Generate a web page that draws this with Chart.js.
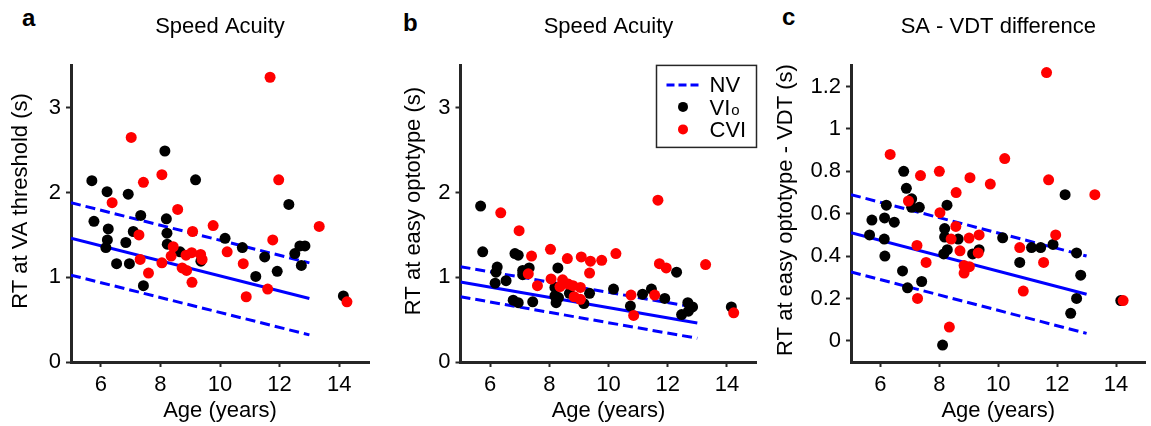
<!DOCTYPE html>
<html>
<head>
<meta charset="utf-8">
<script src="https://cdn.jsdelivr.net/npm/chart.js@4/dist/chart.umd.min.js"></script>
<style>
body { margin: 0; background: #fff; width: 1151px; height: 426px; position: relative; overflow: hidden; }
.panel { position: absolute; top: 0; }
.tag { position: absolute; font: bold 24px/24px 'Liberation Sans', Arial, sans-serif; color: #000; }
</style>
</head>
<body>
<div class="tag" style="left:22px; top:6px">a</div>
<div class="tag" style="left:403px; top:11px">b</div>
<div class="tag" style="left:782px; top:5px">c</div>
<div class="panel" style="left:0px"><canvas id="chartA" width="384" height="426"></canvas></div>
<div class="panel" style="left:392px"><canvas id="chartB" width="376" height="426"></canvas></div>
<div class="panel" style="left:762px"><canvas id="chartC" width="389" height="426"></canvas></div>
<script>
// ticks
var ageTicks = [6, 8, 10, 12, 14];
var rtTicks = [0, 1, 2, 3];
var diffTicks = [0, 0.2, 0.4, 0.6, 0.8, 1, 1.2];

// NV regression line and its bounds, drawn between these ages
var fitAge = [5, 13];

// a: RT at VA threshold
var aVioAge = [5.77, 5.70, 6.21, 6.92, 8.15, 9.18, 12.31, 7.34, 8.20, 6.25, 6.22, 6.17, 6.84, 7.09, 8.22, 8.23, 8.66, 9.36, 6.53, 6.96, 7.43, 10.17, 10.75, 11.20, 11.50, 11.92, 12.51, 12.68, 12.85, 12.73, 14.14];
var aVioRT  = [1.66, 2.14, 2.01, 1.98, 2.49, 2.15, 1.86, 1.73, 1.69, 1.57, 1.44, 1.35, 1.41, 1.54, 1.52, 1.39, 1.30, 1.19, 1.16, 1.16, 0.90, 1.46, 1.35, 1.01, 1.24, 1.07, 1.28, 1.37, 1.37, 1.14, 0.78];
var aCviAge = [11.68, 7.02, 7.43, 8.05, 11.97, 6.38, 8.58, 7.28, 9.08, 9.77, 8.43, 8.36, 8.86, 9.05, 9.35, 9.40, 10.24, 7.32, 8.05, 7.60, 8.73, 8.88, 9.06, 10.78, 10.88, 11.60, 11.77, 13.33, 14.26];
var aCviRT  = [3.36, 2.65, 2.12, 2.21, 2.15, 1.88, 1.80, 1.50, 1.54, 1.61, 1.36, 1.25, 1.26, 1.29, 1.27, 1.21, 1.30, 1.21, 1.17, 1.05, 1.11, 1.08, 0.94, 1.16, 0.77, 0.86, 1.44, 1.60, 0.71];
var aFit = [1.46, 0.75];
var aUpper = [1.88, 1.17];
var aLower = [1.025, 0.32];

// b: RT at easy optotype
var bVioAge = [5.68, 5.75, 6.84, 6.95, 6.24, 6.20, 6.17, 6.54, 7.10, 7.10, 7.32, 8.29, 8.19, 8.19, 8.23, 8.31, 8.68, 9.17, 9.36, 6.78, 6.95, 7.44, 10.17, 10.74, 11.15, 11.45, 11.90, 12.30, 12.47, 12.68, 12.70, 12.84, 14.15];
var bVioRT  = [1.84, 1.30, 1.28, 1.26, 1.12, 1.06, 0.93, 0.96, 1.08, 1.03, 1.11, 1.11, 0.88, 0.78, 0.70, 0.76, 0.81, 0.69, 0.81, 0.73, 0.70, 0.71, 0.86, 0.66, 0.80, 0.86, 0.75, 1.06, 0.56, 0.70, 0.60, 0.65, 0.65];
var bCviAge = [6.36, 6.98, 7.40, 8.04, 8.61, 9.08, 9.39, 9.77, 10.25, 9.36, 7.29, 7.60, 8.06, 8.45, 8.36, 8.64, 8.80, 9.05, 8.84, 9.05, 10.76, 10.85, 11.56, 11.72, 11.95, 11.67, 13.28, 14.23];
var bCviRT  = [1.76, 1.55, 1.25, 1.33, 1.22, 1.24, 1.19, 1.20, 1.28, 1.05, 1.04, 0.90, 0.98, 0.97, 0.89, 0.92, 0.90, 0.88, 0.77, 0.74, 0.79, 0.55, 0.79, 1.16, 1.11, 1.91, 1.15, 0.58];
var bFit = [0.945, 0.46];
var bUpper = [1.125, 0.64];
var bLower = [0.77, 0.28];

// c: SA - VDT difference
var cVioAge = [6.79, 6.88, 7.06, 7.06, 7.32, 6.20, 8.26, 5.71, 6.14, 6.47, 5.63, 6.13, 6.15, 6.75, 6.92, 7.40, 8.18, 8.18, 8.64, 8.27, 8.15, 9.13, 9.35, 8.11, 10.15, 10.73, 11.13, 11.44, 11.86, 12.27, 12.66, 12.80, 12.66, 12.46, 14.16];
var cVioRT  = [0.80, 0.72, 0.67, 0.63, 0.63, 0.64, 0.64, 0.57, 0.58, 0.56, 0.50, 0.48, 0.40, 0.33, 0.25, 0.28, 0.53, 0.49, 0.48, 0.43, 0.41, 0.41, 0.43, -0.02, 0.486, 0.37, 0.44, 0.44, 0.455, 0.69, 0.415, 0.31, 0.20, 0.13, 0.19];
var cCviAge = [11.64, 6.33, 7.36, 8.00, 9.04, 9.73, 10.22, 11.71, 8.57, 13.28, 6.95, 8.02, 8.56, 8.40, 9.01, 9.35, 8.70, 9.32, 7.24, 7.55, 7.26, 8.84, 9.02, 8.84, 8.34, 10.73, 10.85, 11.54, 11.95, 14.24];
var cCviRT  = [1.266, 0.88, 0.78, 0.80, 0.77, 0.74, 0.86, 0.76, 0.70, 0.69, 0.66, 0.605, 0.54, 0.48, 0.485, 0.50, 0.425, 0.415, 0.45, 0.37, 0.20, 0.355, 0.35, 0.32, 0.065, 0.44, 0.235, 0.37, 0.50, 0.19];
var cFit = [0.51, 0.22];
var cUpper = [0.69, 0.40];
var cLower = [0.325, 0.035];

var FONT = "'Liberation Sans', Arial, Helvetica, sans-serif";
var AXIS = '#262626';
Chart.defaults.font.family = FONT;
Chart.defaults.color = '#000';

function pts(xs, ys) {
    var out = [];
    for (var i = 0; i < xs.length; i++) {
        out.push({ x: xs[i], y: ys[i] });
    }
    return out;
}

// rotated y label, placed by hand (centre in canvas px)
var yLabel = {
    id: 'yLabel',
    afterDraw: function(chart, args, opts) {
        var ctx = chart.ctx;
        ctx.save();
        ctx.translate(opts.x, opts.y);
        ctx.rotate(-Math.PI / 2);
        ctx.font = '22px ' + FONT;
        ctx.fillStyle = '#000';
        ctx.textAlign = 'center';
        ctx.textBaseline = 'middle';
        ctx.fillText(opts.text, 0, 0);
        ctx.restore();
    }
};

// legend box of panel b
var legendBox = {
    id: 'legendBox',
    afterDraw: function(chart, args, opts) {
        if (!opts.show) return;
        var ctx = chart.ctx, area = chart.chartArea;
        var x0 = area.right - 100, y0 = area.top;
        ctx.save();
        ctx.fillStyle = '#fff';
        ctx.fillRect(x0, y0, 100, 82);
        ctx.strokeStyle = AXIS;
        ctx.lineWidth = 1.5;
        ctx.strokeRect(x0, y0, 100, 82);

        ctx.strokeStyle = '#0000ff';
        ctx.lineWidth = 3;
        ctx.setLineDash([8, 4]);
        ctx.beginPath();
        ctx.moveTo(x0 + 10, y0 + 19.5);
        ctx.lineTo(x0 + 42, y0 + 19.5);
        ctx.stroke();
        ctx.setLineDash([]);

        ctx.fillStyle = '#000';
        ctx.beginPath();
        ctx.arc(x0 + 26.5, y0 + 41.5, 5, 0, Math.PI * 2);
        ctx.fill();
        ctx.fillStyle = '#ff0000';
        ctx.beginPath();
        ctx.arc(x0 + 26.5, y0 + 64, 5, 0, Math.PI * 2);
        ctx.fill();

        ctx.fillStyle = '#000';
        ctx.textAlign = 'left';
        ctx.textBaseline = 'alphabetic';
        ctx.font = '22px ' + FONT;
        ctx.fillText('NV', x0 + 53, y0 + 27);
        ctx.fillText('VI', x0 + 53, y0 + 49.5);
        var w = ctx.measureText('VI').width;
        ctx.font = '15px ' + FONT;
        ctx.fillText('o', x0 + 53 + w + 1, y0 + 49.5);
        ctx.font = '22px ' + FONT;
        ctx.fillText('CVI', x0 + 53, y0 + 72);
        ctx.restore();
    }
};

function makePanel(id, p) {
    new Chart(document.getElementById(id), {
        type: 'scatter',
        data: {
            datasets: [
                { label: 'CVI', data: pts(p.cviAge, p.cviRT), backgroundColor: '#ff0000', pointRadius: 5.5, borderWidth: 0, order: 0 },
                { label: 'VIo', data: pts(p.vioAge, p.vioRT), backgroundColor: '#000000', pointRadius: 5.5, borderWidth: 0, order: 1 },
                { type: 'line', label: 'NV', data: pts(fitAge, p.fit), borderColor: '#0000ff', borderWidth: 3, pointRadius: 0, fill: false, order: 2 },
                { type: 'line', label: 'NV upper', data: pts(fitAge, p.upper), borderColor: '#0000ff', borderWidth: 3, borderDash: [10, 5], pointRadius: 0, fill: false, order: 2 },
                { type: 'line', label: 'NV lower', data: pts(fitAge, p.lower), borderColor: '#0000ff', borderWidth: 3, borderDash: [10, 5], pointRadius: 0, fill: false, order: 2 }
            ]
        },
        options: {
            responsive: false,
            animation: false,
            events: [],
            layout: { padding: { left: 0, right: p.padRight, top: 0, bottom: 0 } },
            plugins: {
                legend: { display: false },
                tooltip: { enabled: false },
                title: {
                    display: true, text: p.title, fullSize: false,
                    font: { size: 22, weight: 'normal' }, color: '#000',
                    padding: { top: 14, bottom: 25 }
                },
                yLabel: p.yLabel,
                legendBox: { show: p.legend }
            },
            scales: {
                x: {
                    type: 'linear', min: 5, max: 15,
                    afterBuildTicks: function(s) { s.ticks = ageTicks.map(function(v) { return { value: v }; }); },
                    afterFit: function(s) { s.height = 64; },
                    grid: { drawOnChartArea: false, drawTicks: true, tickLength: 5, tickWidth: 2, tickColor: AXIS },
                    border: { display: true, color: AXIS, width: 3 },
                    ticks: { font: { size: 22 }, color: '#000', padding: 5, maxRotation: 0, autoSkip: false },
                    title: { display: true, text: 'Age (years)', font: { size: 22 }, color: '#000', padding: { top: 0, bottom: 2 } }
                },
                y: {
                    type: 'linear', min: p.yMin, max: p.yMax,
                    afterBuildTicks: function(s) { s.ticks = p.yTicks.map(function(v) { return { value: v }; }); },
                    afterFit: function(s) { s.width = p.yWidth; },
                    grid: { drawOnChartArea: false, drawTicks: true, tickLength: 5, tickWidth: 2, tickColor: AXIS },
                    border: { display: true, color: AXIS, width: 3 },
                    ticks: {
                        font: { size: 22 }, color: '#000', padding: 5, autoSkip: false,
                        callback: function(v) { return String(Math.round(v * 10) / 10); }
                    }
                }
            }
        },
        plugins: [yLabel, legendBox]
    });
}

makePanel('chartA', {
    title: 'Speed Acuity',
    vioAge: aVioAge, vioRT: aVioRT, cviAge: aCviAge, cviRT: aCviRT,
    fit: aFit, upper: aUpper, lower: aLower,
    yMin: 0, yMax: 3.5, yTicks: rtTicks, yWidth: 71, padRight: 15,
    yLabel: { text: 'RT at VA threshold (s)', x: 21, y: 201 },
    legend: false
});
makePanel('chartB', {
    title: 'Speed Acuity',
    vioAge: bVioAge, vioRT: bVioRT, cviAge: bCviAge, cviRT: bCviRT,
    fit: bFit, upper: bUpper, lower: bLower,
    yMin: 0, yMax: 3.5, yTicks: rtTicks, yWidth: 68.5, padRight: 11.5,
    yLabel: { text: 'RT at easy optotype (s)', x: 21.5, y: 201 },
    legend: true
});
makePanel('chartC', {
    title: 'SA - VDT difference',
    vioAge: cVioAge, vioRT: cVioRT, cviAge: cCviAge, cviRT: cCviRT,
    fit: cFit, upper: cUpper, lower: cLower,
    yMin: -0.1, yMax: 1.3, yTicks: diffTicks, yWidth: 89, padRight: 5,
    yLabel: { text: 'RT at easy optotype - VDT (s)', x: 24, y: 210 },
    legend: false
});
</script>
</body>
</html>
